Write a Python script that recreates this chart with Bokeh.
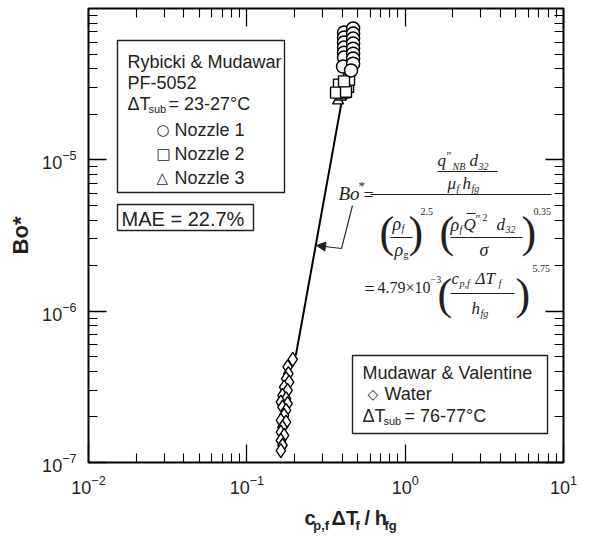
import math
from bokeh.plotting import figure
from bokeh.layouts import column
from bokeh.models import (Label, BoxAnnotation, Arrow, NormalHead, LogAxis,
                          FixedTicker, LogTickFormatter, CustomJSTickFormatter, Range1d)
from bokeh.embed import file_html
from bokeh.resources import INLINE

# ---------------- data ----------------
# Rybicki & Mudawar, PF-5052
nozzle1_x = [0.411, 0.411, 0.411, 0.411, 0.411, 0.411, 0.405,
             0.469, 0.469, 0.469, 0.469, 0.469, 0.469, 0.469, 0.469, 0.455]
nozzle1_y = [6.93e-5, 6.43e-5, 5.96e-5, 5.52e-5, 5.11e-5, 4.74e-5, 4.13e-5,
             7.38e-5, 6.83e-5, 6.33e-5, 5.87e-5, 5.43e-5, 5.03e-5, 4.67e-5, 4.32e-5, 3.9e-5]
nozzle2_x = [0.382, 0.436, 0.366, 0.442, 0.423, 0.411]
nozzle2_y = [3.14e-5, 3.04e-5, 2.78e-5, 3.39e-5, 2.82e-5, 3.3e-5]
nozzle3_x = [0.377, 0.393, 0.411]
nozzle3_y = [2.46e-5, 2.61e-5, 2.69e-5]
# Mudawar & Valentine, water
water_x = [0.195, 0.181, 0.183, 0.177, 0.185, 0.172, 0.181, 0.168, 0.177, 0.164, 0.181,
           0.168, 0.177, 0.172, 0.164, 0.177, 0.168, 0.164, 0.172, 0.164, 0.168, 0.164]
water_y = [4.8e-7, 4.28e-7, 3.87e-7, 3.58e-7, 3.40e-7, 3.15e-7, 3.0e-7, 2.78e-7, 2.64e-7,
           2.51e-7, 2.45e-7, 2.32e-7, 2.21e-7, 2.05e-7, 1.90e-7, 1.85e-7, 1.71e-7, 1.59e-7,
           1.51e-7, 1.40e-7, 1.30e-7, 1.20e-7]
# correlation line Bo* = 4.79e-3 (cp,f dTf/hfg)^5.75 (end points)
corr_x = [0.204, 0.398]
corr_y = [5.1e-7, 2.45e-5]

x_major = [1e-2, 1e-1, 1e0, 1e1]
y_major = [1e-7, 1e-6, 1e-5]
x_minor = [m * 10.0 ** k for k in (-2, -1, 0) for m in range(2, 10)]
y_minor = [m * 10.0 ** k for k in (-7, -6, -5) for m in range(2, 10)]

# ---------------- layout geometry ----------------
W, H = 594, 538
BSTRIP = 40                # bottom strip holding the x-axis title
H1 = H - BSTRIP
L, R, T = 88, 31, 8        # frame left / right margin / top (image coords)
FB = 462                   # frame bottom (image coords)
TXT = "#231f20"

p = figure(width=W, height=H1, x_axis_type="log", y_axis_type="log",
           x_range=Range1d(1e-2, 1e1), y_range=Range1d(1e-7, 1e-4),
           output_backend="svg", toolbar_location=None,
           min_border_left=L, min_border_right=R, min_border_top=T,
           min_border_bottom=H1 - FB)
p.grid.visible = False
p.outline_line_color = "black"
p.outline_line_width = 2
p.background_fill_color = "white"
p.border_fill_color = "white"


def style_axis(ax, major, minor, labels=True):
    ax.ticker = FixedTicker(ticks=major, minor_ticks=minor)
    ax.axis_line_color = None
    ax.major_tick_in = 18
    ax.major_tick_out = 0
    ax.minor_tick_in = 9
    ax.minor_tick_out = 0
    ax.major_tick_line_color = "black"
    ax.minor_tick_line_color = "black"
    ax.major_tick_line_width = 1.3
    ax.minor_tick_line_width = 1.1
    if labels:
        ax.formatter = LogTickFormatter()
        ax.major_label_text_font = "Liberation Sans"
        ax.major_label_text_font_size = "18px"
        ax.major_label_text_color = TXT
        ax.major_label_standoff = 12
    else:
        ax.formatter = CustomJSTickFormatter(code="return ''")
        ax.major_label_standoff = 0


style_axis(p.xaxis[0], x_major, x_minor)
style_axis(p.yaxis[0], y_major, y_minor)
yax = p.yaxis[0]
yax.axis_label = "Bo*"
yax.axis_label_text_font = "Liberation Sans"
yax.axis_label_text_font_style = "bold"
yax.axis_label_text_font_size = "22px"
yax.axis_label_text_color = TXT
yax.axis_label_standoff = 6

top_ax = LogAxis()
right_ax = LogAxis()
style_axis(top_ax, x_major, x_minor, labels=False)
style_axis(right_ax, y_major, y_minor, labels=False)
p.add_layout(top_ax, "above")
p.add_layout(right_ax, "right")

# ---------------- data glyphs ----------------
p.line(corr_x, corr_y, line_color="black", line_width=2)
p.scatter(water_x, water_y, marker="diamond", size=14, fill_color="white",
          line_color="black", line_width=1.4)
p.scatter(nozzle3_x, nozzle3_y, marker="triangle", size=11, fill_color="white",
          line_color="black", line_width=1.4)
p.scatter(nozzle2_x, nozzle2_y, marker="square", size=11, fill_color="white",
          line_color="black", line_width=1.4)
p.scatter(nozzle1_x, nozzle1_y, marker="circle", size=13, fill_color="white",
          line_color="black", line_width=1.5)


# ---------------- annotation helpers (image coordinates) ----------------
def txt(X, Y, s, size, font="Liberation Sans", style="normal", align="left", color=TXT):
    p.add_layout(Label(x=X - L, y=FB - Y, x_units="screen", y_units="screen", text=s,
                       text_font=font, text_font_size=f"{size}px", text_font_style=style,
                       text_align=align, text_baseline="middle", text_color=color))


def seg(X1, Y1, X2, Y2, w=1.0, head=None):
    p.add_layout(Arrow(x_start=X1 - L, y_start=FB - Y1, x_end=X2 - L, y_end=FB - Y2,
                       start_units="screen", end_units="screen", end=head,
                       line_color=TXT, line_width=w))


def box(X1, Y1, X2, Y2):
    p.add_layout(BoxAnnotation(left=X1 - L, right=X2 - L, top=FB - Y1, bottom=FB - Y2,
                               left_units="screen", right_units="screen",
                               top_units="screen", bottom_units="screen",
                               fill_color="white", fill_alpha=1.0,
                               line_color=TXT, line_width=1.4, line_alpha=1.0))


SERIF = "Liberation Serif"

# legend box 1
box(117, 40, 284, 192)
txt(127, 61, "Rybicki & Mudawar", 18)
txt(127, 82, "PF-5052", 18)
txt(127, 103, "ΔT", 18)
txt(148, 108, "sub", 11)
txt(168, 103, "= 23-27°C", 18)
txt(156, 129, "○", 15, font="DejaVu Sans")
txt(174, 129, "Nozzle 1", 18)
txt(156, 153, "□", 15, font="DejaVu Sans")
txt(174, 153, "Nozzle 2", 18)
txt(156, 177, "△", 15, font="DejaVu Sans")
txt(174, 177, "Nozzle 3", 18)

# MAE box
box(117, 204, 253, 230)
txt(121, 218, "MAE = 22.7%", 20)

# legend box 2
box(352, 355, 547, 433)
txt(362, 372, "Mudawar & Valentine", 18)
txt(367, 393, "◇", 14, font="DejaVu Sans")
txt(384, 393, "Water", 18)
txt(362, 415, "ΔT", 18)
txt(383, 420, "sub", 11)
txt(404, 415, "= 76-77°C", 18)

# correlation equation
txt(338, 193, "Bo", 19, font=SERIF, style="italic")
txt(358, 185, "*", 13, font=SERIF)
txt(363, 194, "=", 18, font=SERIF)
seg(370, 194, 551, 194)
# numerator
txt(437, 160, "q", 17, font=SERIF, style="italic")
txt(446, 155, "″", 12, font=SERIF)
txt(452, 166, "NB", 10, font=SERIF, style="italic")
txt(469, 160, "d", 17, font=SERIF, style="italic")
txt(478, 166, "32", 10, font=SERIF, style="italic")
seg(437, 171, 497, 171)
txt(447, 183, "μ", 17, font=SERIF, style="italic")
txt(456, 188, "f", 10, font=SERIF, style="italic")
txt(462, 183, "h", 17, font=SERIF, style="italic")
txt(471, 188, "fg", 10, font=SERIF, style="italic")
# denominator
txt(379, 232, "(", 44, font=SERIF)
txt(408, 232, ")", 44, font=SERIF)
txt(392, 223, "ρ", 18, font=SERIF, style="italic")
txt(401, 228, "f", 10, font=SERIF, style="italic")
seg(390, 237, 412, 237)
txt(394, 249, "ρ", 18, font=SERIF, style="italic")
txt(403, 254, "g", 10, font=SERIF)
txt(420, 211, "2.5", 10, font=SERIF)
txt(439, 232, "(", 44, font=SERIF)
txt(521, 232, ")", 44, font=SERIF)
txt(450, 224, "ρ", 18, font=SERIF, style="italic")
txt(459, 229, "f", 10, font=SERIF, style="italic")
txt(463, 224, "Q", 17, font=SERIF, style="italic")
seg(466, 213, 475, 213)
txt(475, 218, "″", 12, font=SERIF)
txt(482, 217, "2", 10, font=SERIF)
txt(496, 224, "d", 17, font=SERIF, style="italic")
txt(505, 229, "32", 10, font=SERIF, style="italic")
seg(450, 237, 522, 237)
txt(479, 249, "σ", 18, font=SERIF, style="italic")
txt(533, 211, "0.35", 10, font=SERIF)
# second line
txt(364, 288, "=", 18, font=SERIF)
txt(377, 287, "4.79×10", 16, font=SERIF)
txt(430, 279, "−3", 10, font=SERIF)
txt(437, 294, "(", 44, font=SERIF)
txt(451, 278, "c", 17, font=SERIF, style="italic")
txt(459, 283, "p,f", 10, font=SERIF, style="italic")
txt(475, 278, "ΔT", 17, font=SERIF, style="italic")
txt(498, 283, "f", 10, font=SERIF, style="italic")
seg(450, 293, 514, 293)
txt(471, 308, "h", 17, font=SERIF, style="italic")
txt(480, 313, "fg", 10, font=SERIF, style="italic")
txt(515, 294, ")", 44, font=SERIF)
txt(532, 268, "5.75", 10, font=SERIF)

# leader arrow from Bo* to the line
seg(352, 205, 341, 248, w=1.1)
seg(341, 248, 316, 245, w=1.1,
    head=NormalHead(size=9, fill_color=TXT, line_color=TXT))

# ---------------- bottom strip with the x-axis title ----------------
bottom = figure(width=W, height=BSTRIP, x_range=Range1d(0, W), y_range=Range1d(H, H1),
                output_backend="svg", toolbar_location=None,
                x_axis_location=None, y_axis_location=None,
                min_border=0, min_border_left=0, min_border_right=0,
                min_border_top=0, min_border_bottom=0)
bottom.grid.visible = False
bottom.outline_line_color = None
bottom.background_fill_color = "white"
bottom.border_fill_color = "white"


def btxt(X, Y, t, size):
    bottom.add_layout(Label(x=X, y=Y, text=t, text_font="Liberation Sans",
                            text_font_size=f"{size}px", text_font_style="bold",
                            text_align="left", text_baseline="middle", text_color=TXT))


btxt(270, 517, "c", 20)
btxt(281, 525, "p,f", 13)
btxt(304, 517, "ΔT", 20)
btxt(334, 525, "f", 13)
btxt(345, 517, "/", 20)
btxt(358, 517, "h", 20)
btxt(370, 525, "fg", 13)

layout = column(p, bottom, spacing=0)
open("out.html", "w").write(file_html(layout, INLINE))
